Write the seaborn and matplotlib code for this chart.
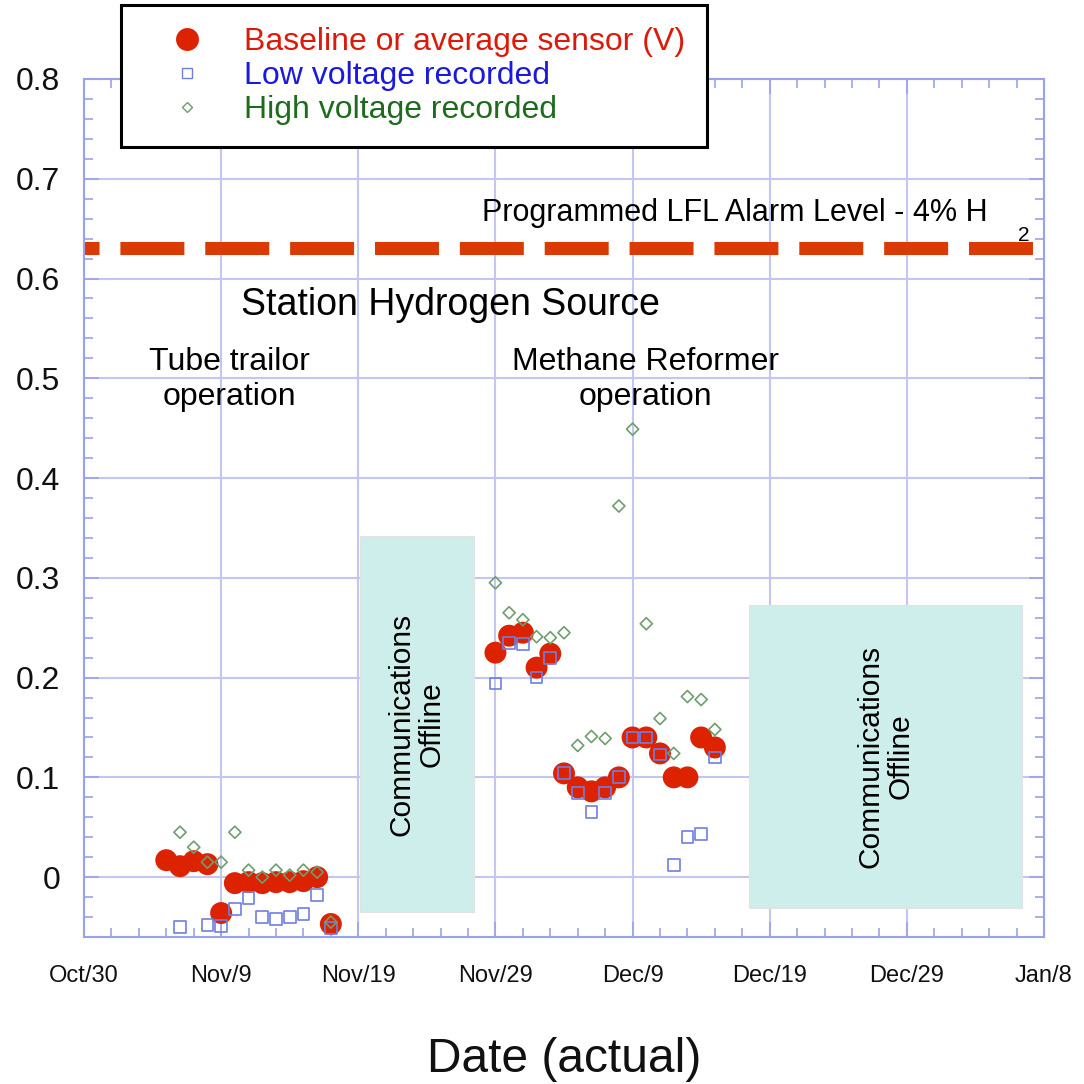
import matplotlib
matplotlib.use("Agg")
import matplotlib.pyplot as plt
import matplotlib.dates as mdates
from matplotlib.patches import Rectangle
from matplotlib.lines import Line2D
import matplotlib.ticker as mticker
import pandas as pd
import seaborn as sns

# ---------------- data ----------------
baseline_dates = ["2005-11-05", "2005-11-06", "2005-11-07", "2005-11-08", "2005-11-09",
                  "2005-11-10", "2005-11-11", "2005-11-12", "2005-11-13", "2005-11-14",
                  "2005-11-15", "2005-11-16", "2005-11-17",
                  "2005-11-29", "2005-11-30", "2005-12-01", "2005-12-02", "2005-12-03",
                  "2005-12-04", "2005-12-05", "2005-12-06", "2005-12-07", "2005-12-08",
                  "2005-12-09", "2005-12-10", "2005-12-11", "2005-12-12", "2005-12-13",
                  "2005-12-14", "2005-12-15"]
baseline_vals = [0.017, 0.011, 0.016, 0.013, -0.036, -0.006, -0.005, -0.006, -0.005, -0.005,
                 -0.004, 0.000, -0.047,
                 0.225, 0.242, 0.245, 0.210, 0.224, 0.104, 0.090, 0.086, 0.090, 0.100,
                 0.140, 0.140, 0.124, 0.100, 0.100, 0.140, 0.130]

low_dates = ["2005-11-06", "2005-11-08", "2005-11-09", "2005-11-10", "2005-11-11",
             "2005-11-12", "2005-11-13", "2005-11-14", "2005-11-15", "2005-11-16", "2005-11-17",
             "2005-11-29", "2005-11-30", "2005-12-01", "2005-12-02", "2005-12-03",
             "2005-12-04", "2005-12-05", "2005-12-06", "2005-12-07", "2005-12-08",
             "2005-12-09", "2005-12-10", "2005-12-11", "2005-12-12", "2005-12-13",
             "2005-12-14", "2005-12-15"]
low_vals = [-0.050, -0.048, -0.049, -0.032, -0.021, -0.040, -0.042, -0.040, -0.037, -0.018, -0.051,
            0.194, 0.235, 0.234, 0.200, 0.220, 0.104, 0.084, 0.065, 0.084, 0.100,
            0.140, 0.140, 0.123, 0.012, 0.040, 0.043, 0.120]

high_dates = ["2005-11-06", "2005-11-07", "2005-11-08", "2005-11-09", "2005-11-10",
              "2005-11-11", "2005-11-12", "2005-11-13", "2005-11-14", "2005-11-15",
              "2005-11-16", "2005-11-17",
              "2005-11-29", "2005-11-30", "2005-12-01", "2005-12-02", "2005-12-03",
              "2005-12-04", "2005-12-05", "2005-12-06", "2005-12-07", "2005-12-08",
              "2005-12-09", "2005-12-10", "2005-12-11", "2005-12-12", "2005-12-13",
              "2005-12-14", "2005-12-15"]
high_vals = [0.045, 0.030, 0.015, 0.015, 0.045, 0.007, 0.000, 0.007, 0.002, 0.007, 0.005, -0.045,
             0.295, 0.265, 0.258, 0.241, 0.240, 0.245, 0.132, 0.141, 0.139, 0.372,
             0.449, 0.254, 0.159, 0.124, 0.181, 0.178, 0.148]

alarm_level = 0.631

x_tick_dates = ["2005-10-30", "2005-11-09", "2005-11-19", "2005-11-29", "2005-12-09",
                "2005-12-19", "2005-12-29", "2006-01-08"]
x_tick_labels = ["Oct/30", "Nov/9", "Nov/19", "Nov/29", "Dec/9", "Dec/19", "Dec/29", "Jan/8"]
y_ticks = [0.0, 0.1, 0.2, 0.3, 0.4, 0.5, 0.6, 0.7, 0.8]
y_tick_labels = ["0", "0.1", "0.2", "0.3", "0.4", "0.5", "0.6", "0.7", "0.8"]

legend_labels = ["Baseline or average sensor (V)", "Low voltage recorded", "High voltage recorded"]

# ---------------- style ----------------
sns.set_theme(style="white")
plt.rcParams["font.family"] = ["Liberation Sans", "DejaVu Sans"]

RED = "#DD2200"
SQ = "#6F7FE2"
DIA = "#6E9E6E"
GRID = "#C4C6F2"
SPINE = "#9AA2EC"
BOX = "#CDEEEA"

fig = plt.figure(figsize=(10.84, 10.84), dpi=100)
ax = fig.add_axes([84 / 1084, 147 / 1084, 960 / 1084, 858 / 1084])

base_df = pd.DataFrame({"date": pd.to_datetime(baseline_dates), "v": baseline_vals})
low_df = pd.DataFrame({"date": pd.to_datetime(low_dates), "v": low_vals})
high_df = pd.DataFrame({"date": pd.to_datetime(high_dates), "v": high_vals})

sns.scatterplot(data=base_df, x="date", y="v", ax=ax, marker="o", s=250,
                color=RED, edgecolor="none", linewidth=0, legend=False, zorder=3)
sns.scatterplot(data=low_df, x="date", y="v", ax=ax, marker="s", s=72,
                color=SQ, facecolor="none", edgecolor=SQ, linewidth=1.2, legend=False, zorder=4)
sns.scatterplot(data=high_df, x="date", y="v", ax=ax, marker="D", s=38,
                color=DIA, facecolor="none", edgecolor=DIA, linewidth=1.2, legend=False, zorder=5)

d0 = mdates.date2num(pd.Timestamp("2005-10-30"))

# alarm line
ax.axhline(alarm_level, color="#D93A06", lw=9.4, ls=(3.75, (4.9, 1.6)), zorder=2)

# communications offline boxes
for (x0, x1, y0, y1) in [(20.1, 28.45, -0.035, 0.342), (48.5, 68.4, -0.031, 0.273)]:
    ax.add_patch(Rectangle((d0 + x0, y0), x1 - x0, y1 - y0, facecolor=BOX,
                           edgecolor="#E2E2E2", lw=0.8, zorder=1.5))
    ax.text(d0 + (x0 + x1) / 2, (y0 + y1) / 2, "Communications\nOffline", rotation=90,
            ha="center", va="center", fontsize=21.5, color="black", zorder=6,
            multialignment="center", linespacing=1.1)

# annotations
ax.text(d0 + 29.05, 0.658, "Programmed LFL Alarm Level - 4% H", ha="left", va="baseline",
        fontsize=22, color="black", zorder=6)
ax.text(d0 + 68.5, 0.643, "2", ha="center", va="center", fontsize=15, color="black", zorder=6)
ax.text(d0 + 26.7, 0.573, "Station Hydrogen Source", ha="center", va="center",
        fontsize=27, color="black", zorder=6)
ax.text(d0 + 10.6, 0.4985, "Tube trailor\noperation", ha="center", va="center",
        fontsize=23, color="black", zorder=6, multialignment="center")
ax.text(d0 + 40.95, 0.4985, "Methane Reformer\noperation", ha="center", va="center",
        fontsize=23, color="black", zorder=6, multialignment="center")

# axes
ax.set_xlim(d0, d0 + 70)
ax.set_ylim(-0.06, 0.8)
major_x = [mdates.date2num(pd.Timestamp(d)) for d in x_tick_dates]
ax.xaxis.set_major_locator(mticker.FixedLocator(major_x))
ax.xaxis.set_major_formatter(mticker.FixedFormatter(x_tick_labels))
ax.xaxis.set_minor_locator(mticker.MultipleLocator(2))
ax.yaxis.set_major_locator(mticker.FixedLocator(y_ticks))
ax.yaxis.set_major_formatter(mticker.FixedFormatter(y_tick_labels))
ax.yaxis.set_minor_locator(mticker.MultipleLocator(0.02))

ax.grid(True, which="major", color=GRID, lw=1.5, zorder=0)
ax.set_axisbelow(True)
for s in ax.spines.values():
    s.set_color(SPINE)
    s.set_linewidth(1.5)
ax.tick_params(which="both", direction="in", top=True, right=True, bottom=True, left=True,
               color=SPINE, width=1.2)
ax.tick_params(which="major", length=11)
ax.tick_params(which="minor", length=6.5)
ax.tick_params(axis="y", which="major", labelsize=23, pad=17, labelcolor="#111111")
ax.tick_params(axis="x", which="major", labelsize=17, pad=20, labelcolor="#111111")

ax.set_xlabel("Date (actual)", fontsize=34.5, labelpad=36, color="#111111")
ax.set_ylabel("")

handles = [
    Line2D([], [], ls="none", marker="o", ms=16.5, color=RED, mec="none"),
    Line2D([], [], ls="none", marker="s", ms=7, mfc="none", mec=SQ, mew=1.0),
    Line2D([], [], ls="none", marker="D", ms=4.8, mfc="none", mec=DIA, mew=1.0),
]
leg = ax.legend(handles=handles, labels=legend_labels, loc="upper left",
                bbox_to_anchor=(121 / 1084, 1 - 5 / 1084), bbox_transform=fig.transFigure,
                borderaxespad=0, fontsize=23, frameon=True, fancybox=False, framealpha=1,
                edgecolor="black", facecolor="white", borderpad=0.7, labelspacing=0.12,
                handlelength=2.75, handletextpad=0.4,
                labelcolor=["#DD1A0A", "#1A1ADD", "#1E6B1E"])
leg.get_frame().set_linewidth(2.2)
leg.set_zorder(10)

fig.savefig("out.png", dpi=100)
